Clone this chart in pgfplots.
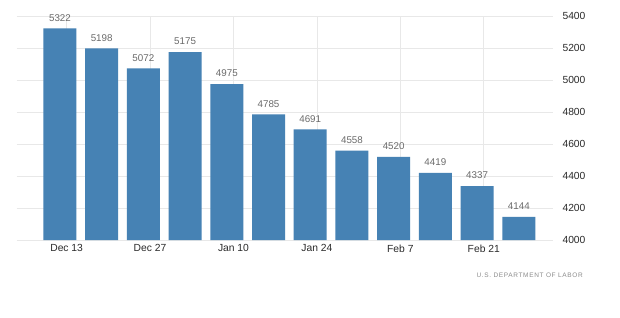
\documentclass[border=0pt]{standalone}
\usepackage{pgfplots}
\pgfplotsset{compat=1.18}
\usepackage{fontspec}
\setmainfont{Liberation Sans}
\newfontfamily\srcfont[LetterSpace=10]{Liberation Sans}
\definecolor{barblue}{HTML}{4682B4}
\definecolor{gridgray}{HTML}{E8E8E8}
\definecolor{valgray}{HTML}{6A6A6A}
\definecolor{ticktxt}{HTML}{2A2A2A}
\definecolor{srcgray}{HTML}{8C8C8C}
\begin{document}
\begin{tikzpicture}[x=1pt,y=1pt]
\useasboundingbox[fill=white] (0,0) rectangle (620,317);
\begin{axis}[
  at={(17pt,77pt)}, anchor=south west,
  scale only axis, width=536pt, height=224pt,
  xmin=-1.03, xmax=11.82, ymin=4000, ymax=5400,
  ytick={4000,4200,4400,4600,4800,5000,5200,5400},
  xtick={0.16,2.16,4.16,6.16,8.16,10.16},
  xticklabels={Dec 13,Dec 27,Jan 10,Jan 24,Feb 7,Feb 21},
  axis line style={draw=none},
  major tick length=0pt,
  grid=major, major grid style={gridgray, line width=0.8pt},
  yticklabel pos=right,
  yticklabel style={anchor=west, xshift=6pt, font=\fontsize{10.3}{12}\selectfont, text=ticktxt},
  xticklabel style={font=\fontsize{10.3}{12}\selectfont, text=ticktxt, yshift=-1pt},
  /pgf/number format/assume math mode=true,
  scaled y ticks=false,
  yticklabel={\pgfmathprintnumber[precision=0,1000 sep={}]{\tick}},
  clip=false,
]
\addplot[ybar, bar width=33pt, fill=barblue, draw=none,
  nodes near coords,
  nodes near coords style={font=\fontsize{9.8}{11}\selectfont, text=valgray, anchor=south, yshift=3.5pt},
  /pgf/number format/.cd, fixed, precision=0, 1000 sep={}]
coordinates {
(0,5322) (1,5198) (2,5072) (3,5175) (4,4975) (5,4785)
(6,4691) (7,4558) (8,4520) (9,4419) (10,4337) (11,4144)
};
\end{axis}
\node[anchor=east, inner sep=0pt, text=srcgray, font=\srcfont\fontsize{6.5}{8}\selectfont] at (583,42) {U.S. DEPARTMENT OF LABOR};
\end{tikzpicture}
\end{document}
